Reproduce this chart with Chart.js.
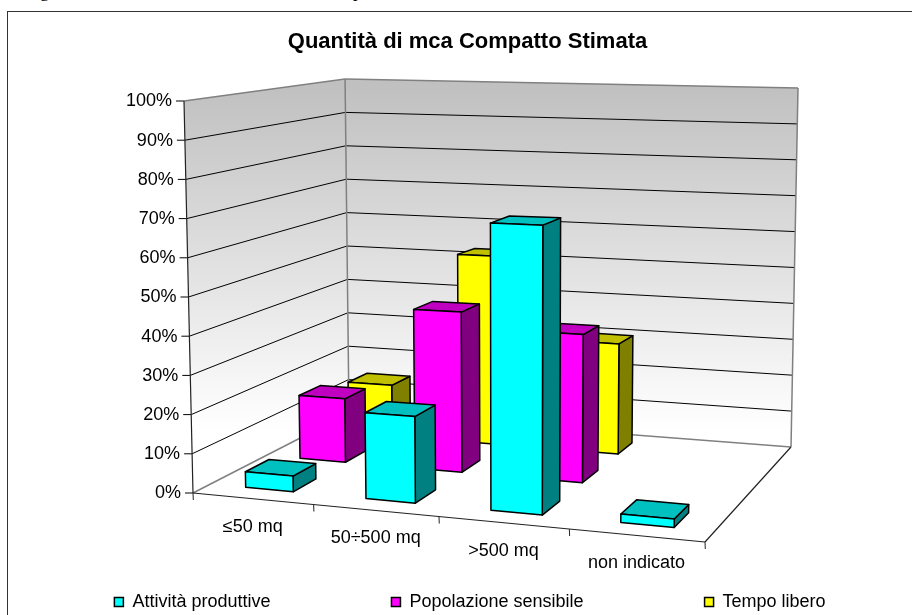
<!DOCTYPE html>
<html>
<head>
<meta charset="utf-8">
<style>
  html, body { margin: 0; padding: 0; background: #fff; width: 912px; height: 615px; overflow: hidden; }
  #caption { position: absolute; left: 25px; top: -19px; font: 18px "Liberation Serif", serif; word-spacing: 8.5px; white-space: nowrap; color: #000; }
  #frame { position: absolute; left: 7px; top: 11px; width: 1000px; height: 1000px; border: 1.5px solid #333; }
  #chart { position: absolute; left: -40px; top: 0; }
</style>
</head>
<body>
<div id="caption">Figura 6: Quantità stimata di mca compatto</div>
<div id="frame"></div>
<canvas id="chart" width="1015" height="615"></canvas>
<script src="https://cdn.jsdelivr.net/npm/chart.js@4"></script>
<script>
// chart data
var categories = ['≤50 mq', '50÷500 mq', '>500 mq', 'non indicato'];
var attivita = [4, 21.5, 70.2, 2];
var popolazione = [17, 42, 38, null];
var tempoLibero = [14.3, 52.3, 30, null];

var FONT = '"Liberation Sans", Arial, sans-serif';

// canvas hangs out to the left of the page, frame runs off to the right
var PAGE_X = 40;

// corners of the 3d floor as they land on the page, wall height over each corner
var floorQuad = [[193, 493], [705, 542], [791, 447], [349, 413]];
var wallHeight = [392, 433, 359, 334];
// verticals converge far below the page
var vanish = [516, 14556];

// unit square -> quad
function homography(q) {
  var dx1 = q[1][0] - q[2][0], dx2 = q[3][0] - q[2][0], sx = q[0][0] - q[1][0] + q[2][0] - q[3][0];
  var dy1 = q[1][1] - q[2][1], dy2 = q[3][1] - q[2][1], sy = q[0][1] - q[1][1] + q[2][1] - q[3][1];
  var det = dx1 * dy2 - dx2 * dy1;
  var g = (sx * dy2 - dx2 * sy) / det, h = (dx1 * sy - sx * dy1) / det;
  return function(u, v) {
    var w = g * u + h * v + 1;
    return [
      ((q[1][0] - q[0][0] + g * q[1][0]) * u + (q[3][0] - q[0][0] + h * q[3][0]) * v + q[0][0]) / w,
      ((q[1][1] - q[0][1] + g * q[1][1]) * u + (q[3][1] - q[0][1] + h * q[3][1]) * v + q[0][1]) / w
    ];
  };
}
var floorMap = homography(floorQuad);

// u along categories, v into the depth, t up the value axis (all 0..1)
function project(u, v, t) {
  // perspective along the x axis is a bit softer than the corners give
  var a = floorMap(u + 0.021 * u * (1 - u), v);
  var front = wallHeight[0] + (wallHeight[1] - wallHeight[0]) * u;
  var back = wallHeight[3] + (wallHeight[2] - wallHeight[3]) * u;
  var h = (front + (back - front) * v) * t;
  return [a[0] + (a[0] - vanish[0]) * h / (vanish[1] - a[1]), a[1] - h];
}

function poly(ctx, pts, fill, stroke, lw) {
  ctx.beginPath();
  pts.forEach(function(p, i) { i ? ctx.lineTo(p[0], p[1]) : ctx.moveTo(p[0], p[1]); });
  ctx.closePath();
  if (fill) { ctx.fillStyle = fill; ctx.fill(); }
  if (stroke) { ctx.strokeStyle = stroke; ctx.lineWidth = lw; ctx.stroke(); }
}

function line(ctx, a, b, color, lw) {
  ctx.beginPath();
  ctx.moveTo(a[0], a[1]);
  ctx.lineTo(b[0], b[1]);
  ctx.strokeStyle = color;
  ctx.lineWidth = lw;
  ctx.stroke();
}

var BAR_U = 0.4, BAR_V = 0.42;

function drawBox(ctx, u, v, t, colors) {
  var u0 = u - BAR_U / 8, u1 = u + BAR_U / 8;
  var v0 = v - BAR_V / 6, v1 = v + BAR_V / 6;
  var top = [project(u0, v0, t), project(u1, v0, t), project(u1, v1, t), project(u0, v1, t)];
  var front = [project(u0, v0, 0), project(u1, v0, 0), project(u1, v0, t), project(u0, v0, t)];
  var side = [project(u1, v0, 0), project(u1, v1, 0), project(u1, v1, t), project(u1, v0, t)];
  poly(ctx, side, colors[2], '#000', 1.5);
  poly(ctx, top, colors[1], '#000', 1.5);
  poly(ctx, front, colors[0], '#000', 1.5);
}

var box3d = {
  id: 'box3d',
  afterLayout: function(chart) {
    // legend row sits on the bottom of the frame
    chart.legend.top = 593 - chart.options.plugins.legend.labels.padding;
    chart.legend.left += 2.5;
    chart.legend.right += 2.5;
  },
  beforeDatasetsDraw: function(chart) {
    var ctx = chart.ctx, x = chart.scales.x, y = chart.scales.y;
    var toU = function(px) { return (px - x.left) / x.width; };
    var toT = function(py) { return (y.bottom - py) / (y.bottom - y.top); };

    ctx.save();
    ctx.translate(PAGE_X, 0);
    ctx.lineJoin = 'round';

    // walls
    var grad = ctx.createLinearGradient(0, 85, 0, 430);
    grad.addColorStop(0, '#c0c0c0');
    grad.addColorStop(1, '#ffffff');
    poly(ctx, [project(0, 0, 0), project(0, 1, 0), project(0, 1, 1), project(0, 0, 1)], grad);
    poly(ctx, [project(0, 1, 0), project(1, 1, 0), project(1, 1, 1), project(0, 1, 1)], grad);

    // gridlines and y ticks
    ctx.font = '18px ' + FONT;
    ctx.textBaseline = 'middle';
    y.ticks.forEach(function(tick) {
      var t = toT(y.getPixelForValue(tick.value));
      var a = project(0, 0, t), b = project(0, 1, t), c = project(1, 1, t);
      if (t > 0 && t < 1) {
        line(ctx, a, b, '#000', 1);
        line(ctx, b, c, '#000', 1);
      }
      line(ctx, a, [a[0] - 8, a[1]], '#000', 1);
      ctx.fillStyle = '#000';
      ctx.textAlign = 'right';
      ctx.fillText(tick.label, a[0] - 12, a[1] + 0.5);
    });

    // wall outlines
    var w = '#808080';
    line(ctx, project(0, 0, 1), project(0, 1, 1), w, 1.5);
    line(ctx, project(0, 1, 1), project(1, 1, 1), w, 1.5);
    line(ctx, project(0, 1, 0), project(0, 1, 1), w, 1.5);
    line(ctx, project(1, 1, 0), project(1, 1, 1), w, 1.5);
    line(ctx, project(0, 0, 0), project(0, 1, 0), w, 1.5);
    line(ctx, project(0, 1, 0), project(1, 1, 0), w, 1.5);
    // axes
    line(ctx, project(0, 0, 0), project(0, 0, 1), '#222', 1.2);
    line(ctx, project(0, 0, 0), project(1, 0, 0), '#222', 1.2);
    line(ctx, project(1, 0, 0), project(1, 1, 0), '#222', 1.2);

    // category ticks and labels
    ctx.textAlign = 'center';
    for (var n = 0; n <= categories.length; n++) {
      var p = project(n / categories.length, 0, 0);
      line(ctx, p, [p[0] + 0.3, p[1] + 7], '#222', 1);
    }
    categories.forEach(function(name, i) {
      var p = project(toU(x.getPixelForValue(i)), 0, 0);
      ctx.fillStyle = '#000';
      ctx.fillText(name, p[0], p[1] + 28);
    });

    // bars, back row first, left to right
    for (var s = chart.data.datasets.length - 1; s >= 0; s--) {
      var ds = chart.data.datasets[s];
      var v = (s + 0.5) / chart.data.datasets.length;
      ds.data.forEach(function(val, i) {
        if (val === null) return;
        drawBox(ctx, toU(x.getPixelForValue(i)), v, toT(y.getPixelForValue(val)), ds.shades);
      });
    }
    ctx.restore();
    // the library's flat bars stay off
    return false;
  }
};

var chart = new Chart(document.getElementById('chart').getContext('2d'), {
  type: 'bar',
  plugins: [box3d],
  data: {
    labels: categories,
    datasets: [
      { label: 'Attività produttive', data: attivita, backgroundColor: '#00ffff', borderColor: '#000', borderWidth: 1.5, shades: ['#00ffff', '#00c0c0', '#008080'] },
      { label: 'Popolazione sensibile', data: popolazione, backgroundColor: '#ff00ff', borderColor: '#000', borderWidth: 1.5, shades: ['#ff00ff', '#c000c0', '#800080'] },
      { label: 'Tempo libero', data: tempoLibero, backgroundColor: '#ffff00', borderColor: '#000', borderWidth: 1.5, shades: ['#ffff00', '#c0c000', '#808000'] }
    ]
  },
  options: {
    responsive: false,
    animation: false,
    scales: {
      x: { display: false },
      y: { display: false, min: 0, max: 100, ticks: { stepSize: 10, callback: function(v) { return v + '%'; } } }
    },
    plugins: {
      tooltip: { enabled: false },
      title: {
        display: true,
        text: 'Quantità di mca Compatto Stimata',
        color: '#000',
        font: { family: FONT, size: 22, weight: 'bold' },
        padding: { top: 29, bottom: 10 }
      },
      legend: {
        position: 'bottom',
        labels: {
          boxWidth: 9,
          boxHeight: 9,
          padding: 121,
          color: '#000',
          font: { family: FONT, size: 18 }
        }
      }
    }
  }
});
</script>
</body>
</html>
